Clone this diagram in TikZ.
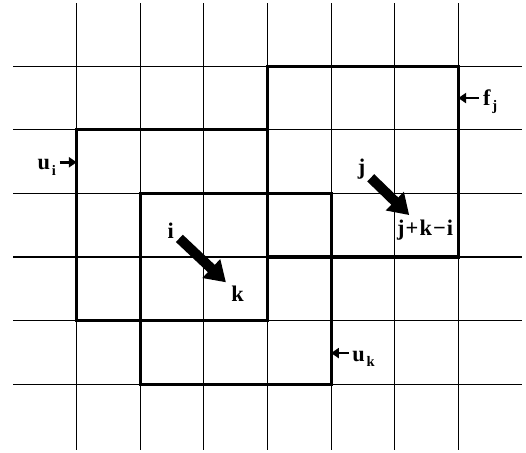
\documentclass[tikz,border=0pt]{standalone}
\usepackage{fontspec}
\setmainfont{Liberation Serif}
\usetikzlibrary{arrows.meta}
\newcommand{\lowsub}[1]{\kern.08em\raisebox{-.5ex}{\fontsize{6.5}{7}\selectfont #1}}

\begin{document}
\begin{tikzpicture}[
        gridline/.style={line width=0.5pt},
        wall/.style={line width=1.4pt},
        lab/.style={font=\fontsize{10}{12}\selectfont\bfseries, inner sep=1.5pt},
        move/.style={line width=4.5pt, -{Triangle[length=9pt,width=11pt]}, shorten <=1pt, shorten >=1pt},
        flux/.style={line width=1.1pt, -{Triangle[length=3.5pt,width=4.5pt]}}
    ]
        \useasboundingbox (-1.206,-1.08) rectangle (7.065,6.042);
        \foreach \x in {0,...,6}
            \draw[gridline] (\x,-1.03) -- (\x,6);
        \foreach \y in {0,...,5}
            \draw[gridline] (-1,\y) -- (7,\y);
        \draw[wall] (0,1) rectangle (3,4);
        \draw[wall] (1,0) rectangle (4,3);
        \draw[wall] (3,2) rectangle (6,5);
        \node[lab] (i) at (1.48,2.42) {i};
        \node[lab] (k) at (2.53,1.43) {k};
        \node[lab] (j) at (4.48,3.385) {j};
        \node[lab] (jki) at (5.48,2.416) {j\kern.05em+\kern.05em k\kern.05em−\kern.05em i};
        \draw[move] (i) -- (k);
        \draw[move] (j) -- (jki);
        \node[lab] (ui) at (-0.47,3.41) {u\lowsub{i}};
        \coordinate (uiend) at (0,3.49);
        \draw[flux] (ui.east |- uiend) -- (uiend);
        \node[lab] (fj) at (6.50,4.44) {f\lowsub{j}};
        \coordinate (fjend) at (6,4.5);
        \draw[flux] (fj.west |- fjend) -- (fjend);
        \node[lab] (uk) at (4.51,0.40) {u\lowsub{k}};
        \coordinate (ukend) at (4,0.49);
        \draw[flux] (uk.west |- ukend) -- (ukend);
    \end{tikzpicture}
\end{document}
